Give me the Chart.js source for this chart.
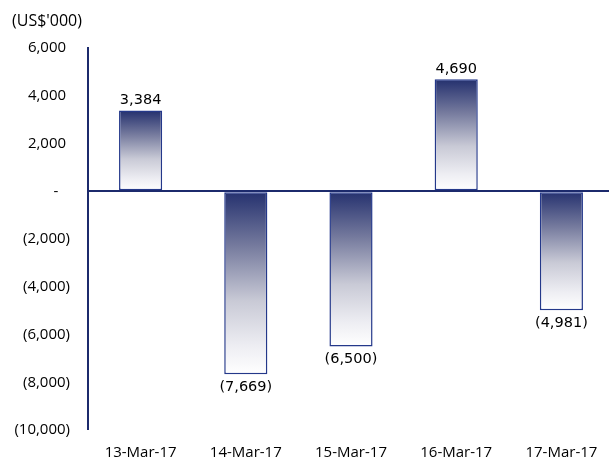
<!DOCTYPE html>
<html>
<head>
<meta charset="utf-8">
<script src="https://cdn.jsdelivr.net/npm/chart.js@4/dist/chart.umd.min.js"></script>
<style>
  html, body { margin: 0; padding: 0; background: #fff; overflow: hidden; }
  #wrap { position: relative; width: 614px; height: 459px; }
</style>
</head>
<body>
<div id="wrap"><canvas id="flowChart"></canvas></div>
<script>
// daily net flows, in thousands of US$
const days = ['13-Mar-17', '14-Mar-17', '15-Mar-17', '16-Mar-17', '17-Mar-17'];
const netFlow = [3384, -7669, -6500, 4690, -4981];
const yMin = -10000;
const yMax = 6000;
const yStep = 2000;

const navy = '#1c2a6c';

// accounting style: negatives in brackets, zero as a dash
function acct(v) {
    if (v === 0) return '-';
    const s = Math.abs(v).toLocaleString('en-US');
    return v < 0 ? '(' + s + ')' : s;
}

const labelPlugin = {
    id: 'labelPlugin',
    afterDraw(chart) {
        const c = chart.ctx;
        c.save();
        c.fillStyle = '#000';
        c.font = "16px 'Open Sans'";
        c.textAlign = 'left';
        c.textBaseline = 'middle';
        c.fillText("(US$'000)", 12, 21);

        c.font = "14.5px 'DejaVu Sans'";
        c.textAlign = 'center';
        const meta = chart.getDatasetMeta(0);
        meta.data.forEach((bar, i) => {
            const v = netFlow[i];
            if (v >= 0) {
                c.textBaseline = 'bottom';
                c.fillText(acct(v), bar.x, bar.y - 3);
            } else {
                c.textBaseline = 'top';
                c.fillText(acct(v), bar.x, bar.y + 6);
            }
        });
        c.restore();
    }
};

new Chart(document.getElementById('flowChart'), {
    type: 'bar',
    data: {
        labels: days,
        datasets: [{
            data: netFlow,
            backgroundColor: (ctx) => {
                const chart = ctx.chart;
                if (!chart.chartArea || ctx.type !== 'data') return '#8a8eab';
                const y = chart.scales.y;
                const v = netFlow[ctx.dataIndex];
                const top = y.getPixelForValue(Math.max(v, 0));
                const bot = y.getPixelForValue(Math.min(v, 0));
                const g = chart.ctx.createLinearGradient(0, top, 0, bot);
                g.addColorStop(0, '#24306e');
                g.addColorStop(0.3, '#767b9e');
                g.addColorStop(0.6, '#c9cad6');
                g.addColorStop(0.85, '#eeeef3');
                g.addColorStop(1, '#ffffff');
                return g;
            },
            borderColor: '#24388a',
            borderWidth: 1.5,
            borderSkipped: false,
            barPercentage: 0.41,
            categoryPercentage: 1
        }]
    },
    options: {
        responsive: true,
        maintainAspectRatio: false,
        animation: false,
        layout: { padding: { top: 48, left: 0, right: 0, bottom: 0 } },
        plugins: {
            legend: { display: false },
            tooltip: { enabled: false }
        },
        scales: {
            x: {
                grid: { display: false },
                border: { display: false },
                ticks: {
                    color: '#000',
                    font: { family: 'Open Sans', size: 15 },
                    padding: 6,
                    maxRotation: 0
                },
                afterFit(scale) { scale.height = 29; }
            },
            y: {
                min: yMin,
                max: yMax,
                border: { display: true, color: navy, width: 2 },
                grid: {
                    drawTicks: false,
                    color: (ctx) => ctx.tick && ctx.tick.value === 0 ? navy : 'rgba(0,0,0,0)',
                    lineWidth: (ctx) => ctx.tick && ctx.tick.value === 0 ? 2 : 0
                },
                ticks: {
                    stepSize: yStep,
                    padding: 18,
                    color: '#000',
                    font: { family: 'Open Sans', size: 15 },
                    callback: (v) => {
                        if (v === 0) return '-   ';
                        return v > 0 ? acct(v) + ' ' : acct(v);
                    }
                },
                afterFit(scale) { scale.width = 88; }
            }
        }
    },
    plugins: [labelPlugin]
});
</script>
</body>
</html>
